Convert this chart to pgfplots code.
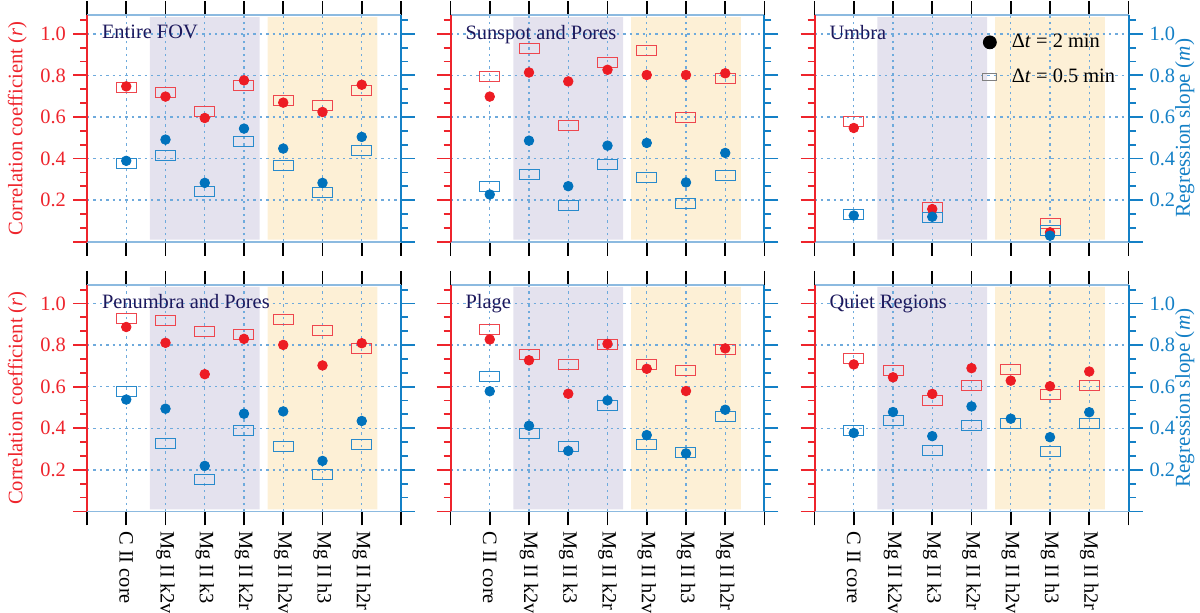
\documentclass[border=0pt]{standalone}
\usepackage{fontspec}
\setmainfont{Liberation Serif}
\usepackage{pgfplots}
\pgfplotsset{compat=1.18}
\usepackage{pgfplotstable}

\definecolor{axred}{RGB}{238,36,44}
\definecolor{redc}{RGB}{237,28,36}
\definecolor{redrect}{RGB}{238,70,78}
\definecolor{bluec}{RGB}{0,114,188}
\definecolor{bluerect}{RGB}{40,138,204}
\definecolor{axblue}{RGB}{20,128,198}
\definecolor{gridblue}{RGB}{110,170,220}
\definecolor{frameblue}{RGB}{140,186,224}
\definecolor{purpshade}{RGB}{228,226,238}
\definecolor{orshade}{RGB}{253,240,214}
\definecolor{navy}{RGB}{28,24,92}

\newcommand{\tfont}{\fontsize{10.2}{12.2}\selectfont}
\newcommand{\lfont}{\fontsize{10.3}{12.4}\selectfont}
\newcommand{\rfont}{\fontsize{10.6}{12.7}\selectfont}

\pgfplotstableread{
x rr rc br bc
1 0.744 0.747 0.376 0.389
2 0.717 0.698 0.414 0.491
3 0.624 0.595 0.240 0.283
4 0.752 0.776 0.480 0.544
5 0.680 0.669 0.365 0.448
6 0.653 0.624 0.235 0.283
7 0.728 0.755 0.440 0.504
}\tabA
\pgfplotstableread{
x rr rc br bc
1 0.795 0.698 0.267 0.227
2 0.928 0.814 0.325 0.486
3 0.558 0.771 0.174 0.267
4 0.861 0.827 0.371 0.462
5 0.922 0.802 0.310 0.475
6 0.597 0.802 0.182 0.285
7 0.786 0.810 0.320 0.427
}\tabB
\pgfplotstableread{
x rr rc br bc
1 0.576 0.547 0.131 0.126
3 0.165 0.157 0.117 0.120
6 0.088 0.045 0.053 0.029
}\tabC
\pgfplotstableread{
x rr rc br bc
1 0.929 0.887 0.575 0.538
2 0.920 0.811 0.329 0.494
3 0.863 0.660 0.155 0.219
4 0.851 0.830 0.388 0.470
5 0.922 0.801 0.311 0.481
6 0.870 0.702 0.176 0.243
7 0.782 0.809 0.324 0.435
}\tabD
\pgfplotstableread{
x rr rc br bc
1 0.877 0.827 0.650 0.578
2 0.757 0.727 0.377 0.412
3 0.707 0.566 0.314 0.291
4 0.801 0.806 0.509 0.534
5 0.707 0.686 0.320 0.367
6 0.678 0.579 0.285 0.279
7 0.779 0.784 0.456 0.489
}\tabE
\pgfplotstableread{
x rr rc br bc
1 0.734 0.707 0.391 0.377
2 0.680 0.645 0.438 0.478
3 0.533 0.565 0.291 0.362
4 0.605 0.689 0.415 0.505
5 0.682 0.629 0.425 0.446
6 0.560 0.602 0.290 0.357
7 0.605 0.673 0.422 0.477
}\tabF

\pgfplotsset{
  base/.style={scale only axis, width=157pt, height=113.3pt,
    xmin=0, xmax=8, ymin=0, ymax=1.09, anchor=south west, set layers,
    /pgf/number format/assume math mode=true,
    ytick={0,0.2,0.4,0.6,0.8,1.0},
    minor ytick={0.0667,0.1333,0.2667,0.3333,0.4667,0.5333,0.6667,0.7333,0.8667,0.9333,1.0667},
    tick align=outside, major tick length=7pt, minor tick length=3.5pt,
    yticklabels={}, xticklabels={},
    tick label style={font=\tfont},
    label style={font=\lfont}},
  mainax/.style={base,
    xtick={0,1,2,3,4,5,6,7,8}, xtick pos=both, ytick pos=left, xticklabel pos=lower,
    separate axis lines,
    every outer x axis line/.append style={frameblue, line width=0.9pt},
    every outer y axis line/.append style={axred, line width=1pt},
    x tick style={black, line width=0.9pt},
    y tick style={axred, line width=0.9pt},
    grid=major,
    major grid style={gridblue, line width=0.7pt, dash pattern=on 1.2pt off 2pt}},
  rightax/.style={base, axis x line=none, axis y line*=right,
    every non boxed y axis/.append style={y axis line style={-}},
    y axis line style={-, axblue, line width=1pt},
    y tick style={axblue, line width=0.9pt},
    yticklabel style={axblue}},
  leftlab/.style={yticklabels={,0.2,0.4,0.6,0.8,1.0}, yticklabel style={axred},
    ylabel={Correlation coefficient (\textit{r})}, ylabel style={axred}},
  rightlab/.style={yticklabels={,0.2,0.4,0.6,0.8,1.0},
    ylabel={Regression slope (\textit{m})}, ylabel style={axblue, font=\rfont}, ylabel shift=-6.8pt},
  botlab/.style={xticklabels={,C II core,Mg II k2v,Mg II k3,Mg II k2r,Mg II h2v,Mg II h3,Mg II h2r,},
    xticklabel style={rotate=-90, anchor=west, xshift=-0.5pt}},
  rectred/.style={only marks, forget plot, mark=square, mark size=2.5pt, color=redrect,
    mark options={xscale=2, line width=0.5pt, solid}},
  rectblue/.style={only marks, forget plot, mark=square, mark size=2.5pt, color=bluerect,
    mark options={xscale=2, line width=0.5pt, solid}},
  circred/.style={only marks, forget plot, mark=*, mark size=2.4pt, color=redc},
  circblue/.style={only marks, forget plot, mark=*, mark size=2.4pt, color=bluec},
}

\newcommand{\plotall}[2]{%
  \addplot[draw=none, fill=purpshade, forget plot, on layer=axis background]
    coordinates {(1.6,0.01) (4.4,0.01) (4.4,1.08) (1.6,1.08) (1.6,0.01)};
  \addplot[draw=none, fill=orshade, forget plot, on layer=axis background]
    coordinates {(4.6,0.01) (7.4,0.01) (7.4,1.08) (4.6,1.08) (4.6,0.01)};
  \addplot[rectred] table[x=x,y=rr]{#1};
  \addplot[rectblue] table[x=x,y=br]{#1};
  \addplot[circred] table[x=x,y=rc]{#1};
  \addplot[circblue] table[x=x,y=bc]{#1};
  \node[anchor=north west, inner sep=0pt, text=navy, xshift=7.3pt, yshift=-4.8pt, font=\tfont]
    at (rel axis cs:0,1) {#2};
}

\begin{document}
\begin{tikzpicture}

% ---- top row ----
\begin{axis}[mainax, leftlab, at={(43.5pt,185.15pt)}]
\plotall{\tabA}{Entire FOV}
\end{axis}
\begin{axis}[rightax, at={(43.5pt,185.15pt)}]
\end{axis}

\begin{axis}[mainax, at={(225.25pt,185.15pt)}]
\plotall{\tabB}{Sunspot and Pores}
\end{axis}
\begin{axis}[rightax, at={(225.25pt,185.15pt)}]
\end{axis}

\begin{axis}[mainax, at={(407.25pt,185.15pt)},
  legend style={at={(rel axis cs:1,1)}, anchor=north east, xshift=-4.5pt, yshift=-7.3pt,
    draw=none, fill=none, inner sep=0pt, row sep=5pt, font=\tfont,
    /tikz/every odd column/.append style={column sep=5.5pt}},
  legend cell align=left]
\plotall{\tabC}{Umbra}
\addlegendimage{only marks, mark=*, black, mark size=3.25pt}
\addlegendentry{Δ\textit{t} = 2 min}
\addlegendimage{only marks, mark=square, mark size=1.75pt, gray, mark options={xscale=2, line width=0.6pt}}
\addlegendentry{Δ\textit{t} = 0.5 min}
\end{axis}
\begin{axis}[rightax, rightlab, at={(407.25pt,185.15pt)}]
\end{axis}

% ---- bottom row ----
\begin{axis}[mainax, leftlab, botlab, at={(43.5pt,50.3pt)}]
\plotall{\tabD}{Penumbra and Pores}
\end{axis}
\begin{axis}[rightax, at={(43.5pt,50.3pt)}]
\end{axis}

\begin{axis}[mainax, botlab, at={(225.25pt,50.3pt)}]
\plotall{\tabE}{Plage}
\end{axis}
\begin{axis}[rightax, at={(225.25pt,50.3pt)}]
\end{axis}

\begin{axis}[mainax, botlab, at={(407.25pt,50.3pt)}]
\plotall{\tabF}{Quiet Regions}
\end{axis}
\begin{axis}[rightax, rightlab, at={(407.25pt,50.3pt)}]
\end{axis}

\pgfresetboundingbox
\path[use as bounding box] (0,0) rectangle (600pt,306pt);
\end{tikzpicture}
\end{document}
